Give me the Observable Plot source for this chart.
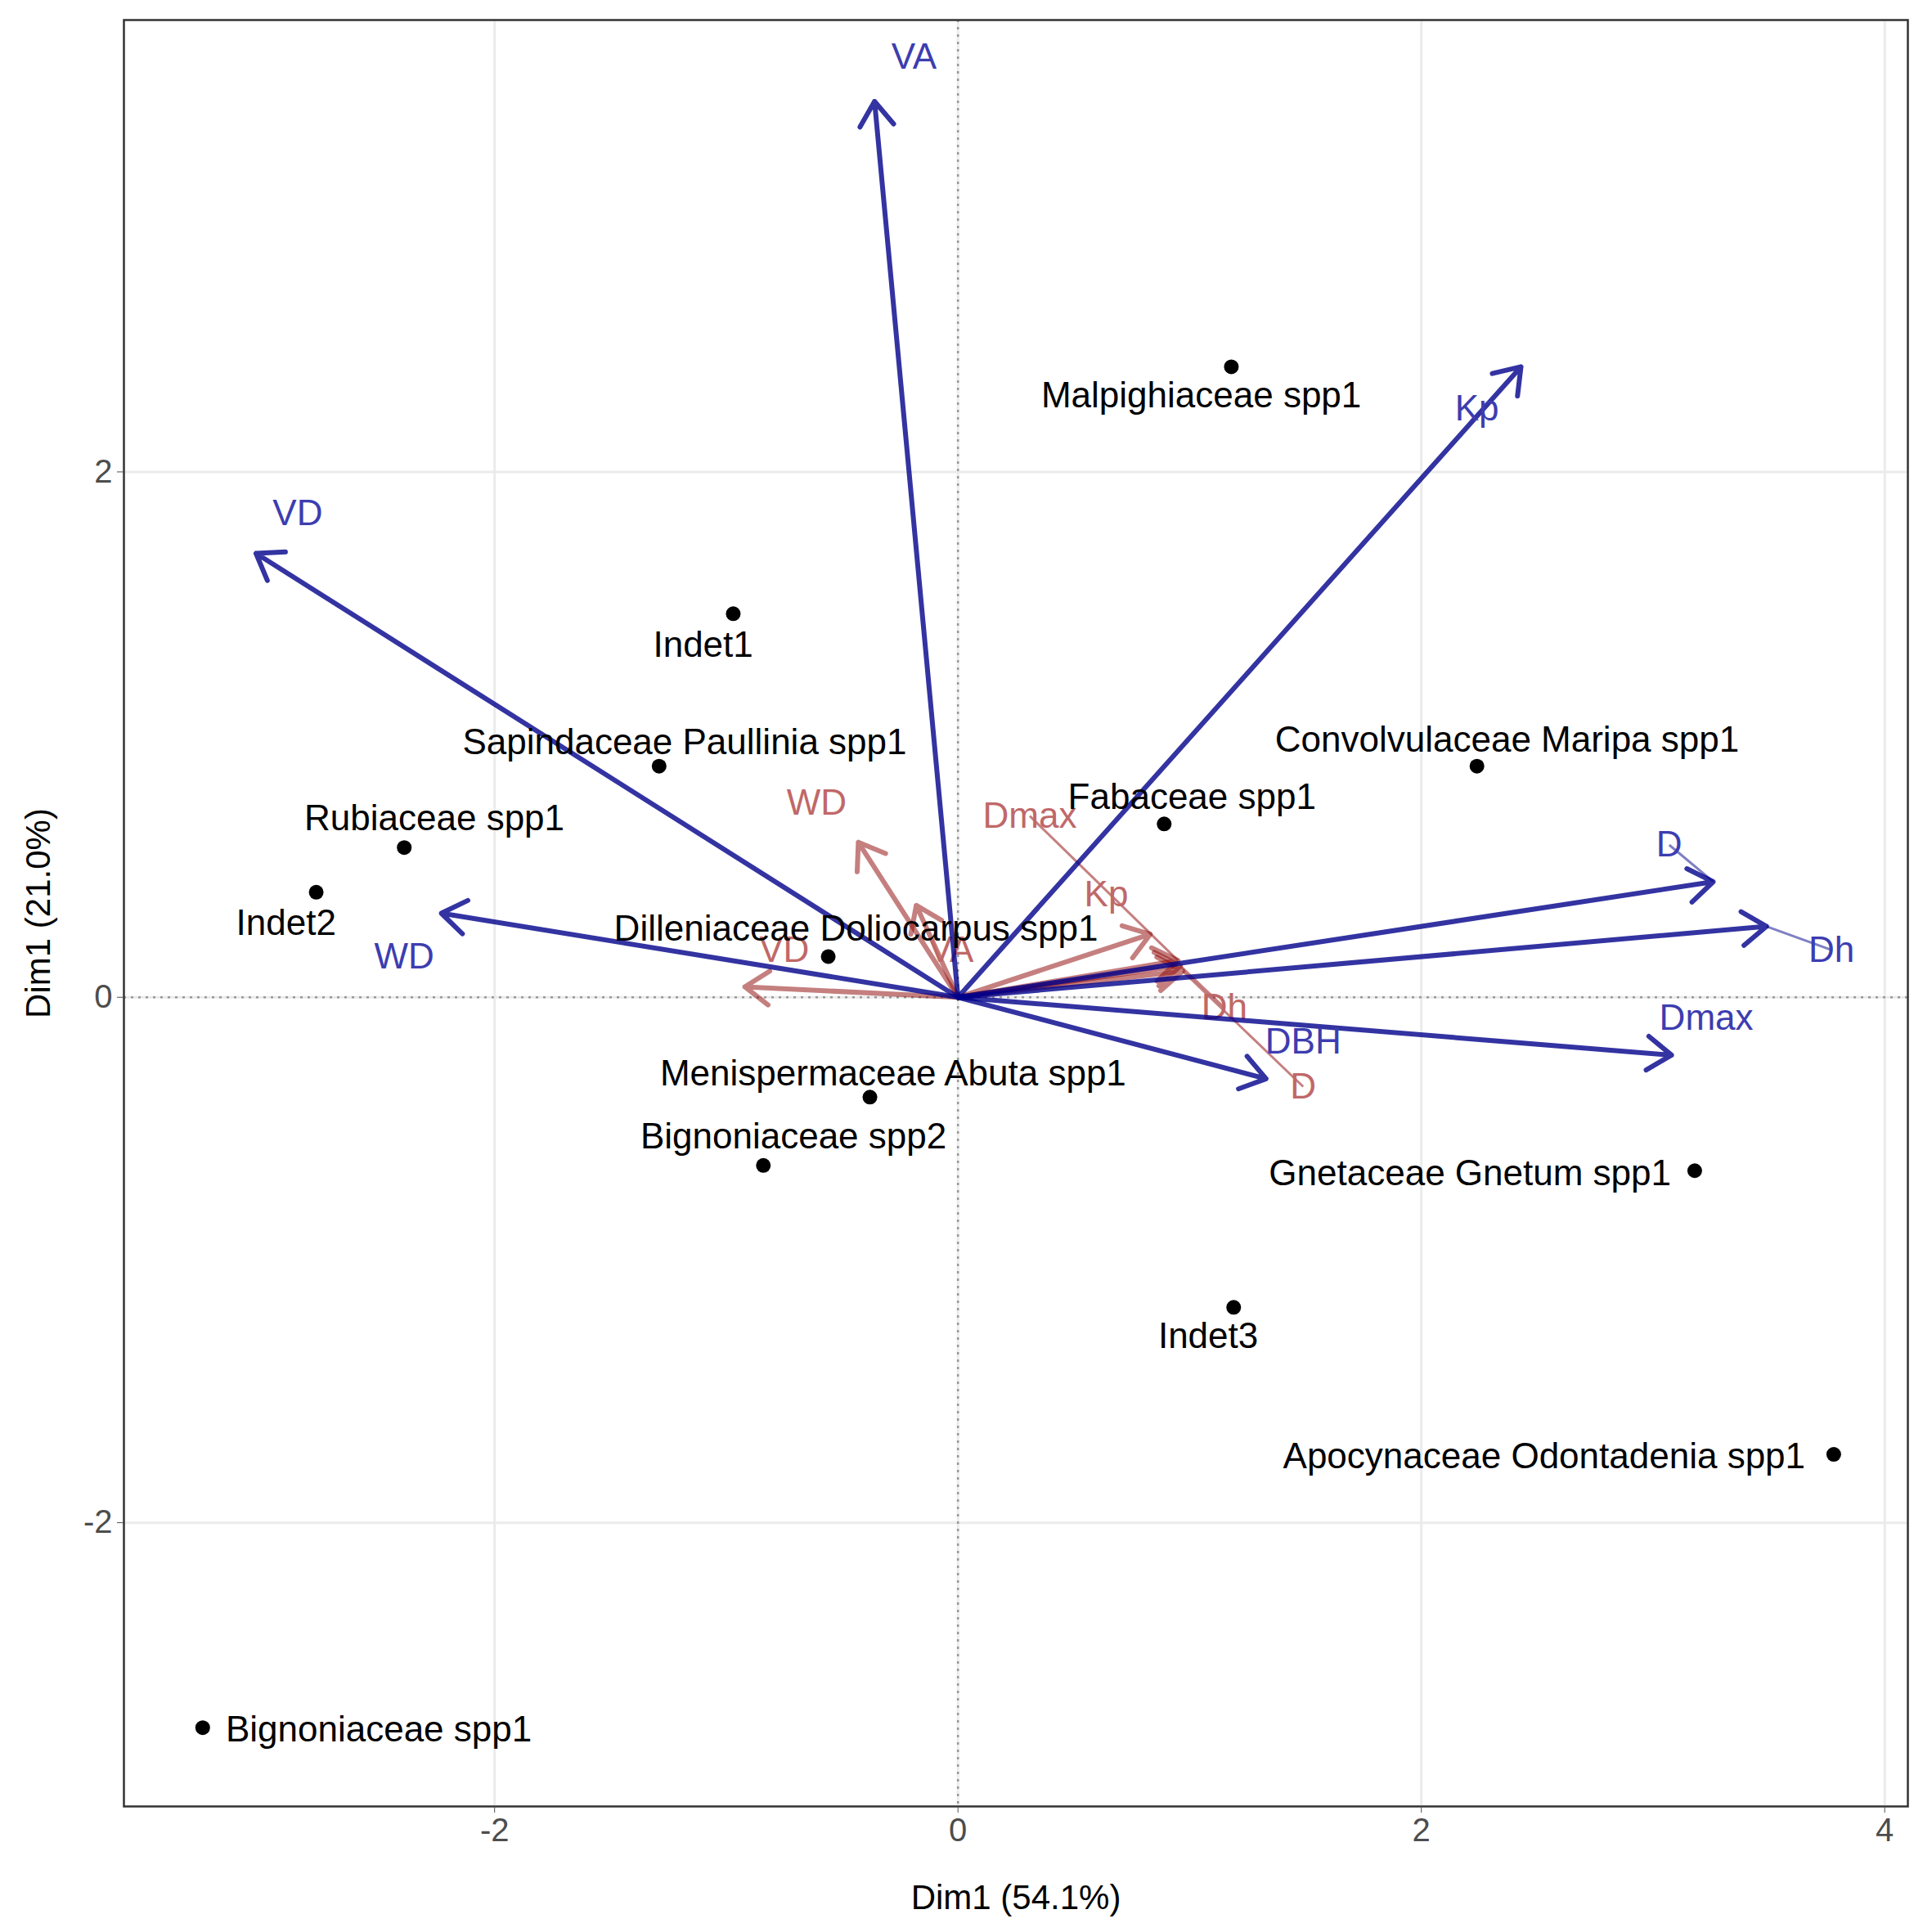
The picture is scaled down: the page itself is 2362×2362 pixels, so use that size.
<!DOCTYPE html>
<html>
<head>
<meta charset="utf-8">
<script src="https://cdn.jsdelivr.net/npm/d3@7"></script>
<script src="https://cdn.jsdelivr.net/npm/@observablehq/plot@0.6"></script>
<style>body{margin:0;background:#fff;} #chart{width:2362px;height:2362px;}</style>
</head>
<body>
<div id="chart"></div>
<script>
// individuals
const species = ["Malpighiaceae spp1","Indet1","Sapindaceae Paullinia spp1","Convolvulaceae Maripa spp1","Fabaceae spp1","Rubiaceae spp1","Indet2","Dilleniaceae Doliocarpus spp1","Menispermaceae Abuta spp1","Bignoniaceae spp2","Gnetaceae Gnetum spp1","Indet3","Apocynaceae Odontadenia spp1","Bignoniaceae spp1"];
const spX = [1.18,-0.97,-1.29,2.24,0.89,-2.39,-2.77,-0.56,-0.38,-0.84,3.18,1.19,3.78,-3.26];
const spY = [2.40,1.46,0.88,0.88,0.66,0.57,0.40,0.155,-0.38,-0.64,-0.66,-1.18,-1.74,-2.78];
// repelled label spots
const spLabX = [1.05,-1.10,-1.18,2.37,1.01,-2.26,-2.90,-0.44,-0.28,-0.71,2.21,1.08,2.53,-2.50];
const spLabY = [2.29,1.34,0.97,0.98,0.76,0.68,0.28,0.26,-0.29,-0.53,-0.67,-1.29,-1.75,-2.79];

// blue variables
const blueVars = ["VA","Kp","VD","WD","D","Dh","Dmax","DBH"];
const blueX = [-0.36,2.43,-3.03,-2.23,3.26,3.49,3.08,1.33];
const blueY = [3.41,2.40,1.69,0.32,0.44,0.27,-0.22,-0.31];
const blueLabX = [-0.19,2.24,-2.85,-2.39,3.07,3.77,3.23,1.49];
const blueLabY = [3.58,2.24,1.84,0.155,0.58,0.18,-0.08,-0.17];
const blueLeader = ["D","Dh"];

// red variables
const redVars = ["WD","Dmax","Kp","VD","VA","Dh","D"];
const redX = [-0.43,0.95,0.83,-0.92,-0.18,0.96,0.97];
const redY = [0.59,0.14,0.24,0.04,0.35,0.12,0.10];
const redLabX = [-0.61,0.31,0.64,-0.75,-0.03,1.15,1.49];
const redLabY = [0.74,0.69,0.39,0.18,0.18,-0.04,-0.34];
const redLeader = ["Dmax","Dh","D"];

const pts = species.map((s,i)=>({name:s,x:spX[i],y:spY[i],lx:spLabX[i],ly:spLabY[i]}));
const blue = blueVars.map((s,i)=>({name:s,x:blueX[i],y:blueY[i],lx:blueLabX[i],ly:blueLabY[i]}));
const red = redVars.map((s,i)=>({name:s,x:redX[i],y:redY[i],lx:redLabX[i],ly:redLabY[i]}));

const blueCol = "#00008b", redCol = "#8b0000";
const fmt = d => String(d).replace("−", "-");

const chart = Plot.plot({
  width: 2362, height: 2362,
  marginLeft: 151, marginRight: 30, marginTop: 24, marginBottom: 154,
  style: {fontFamily: "Liberation Sans, Arial, sans-serif", fontSize: "40px", background: "#fff"},
  x: {domain: [-3.6, 4.1]},
  y: {domain: [-3.08, 3.72]},
  marks: [
    Plot.gridX([-2,0,2,4], {stroke: "#ebebeb", strokeOpacity: 1, strokeWidth: 3}),
    Plot.gridY([-2,0,2], {stroke: "#ebebeb", strokeOpacity: 1, strokeWidth: 3}),
    Plot.ruleX([0], {stroke: "#999", strokeWidth: 2.5, strokeDasharray: "3,6"}),
    Plot.ruleY([0], {stroke: "#999", strokeWidth: 2.5, strokeDasharray: "3,6"}),
    Plot.frame({stroke: "#333", strokeWidth: 2.5}),
    Plot.axisX({ticks: [-2,0,2,4], tickFormat: fmt, tickSize: 8, tickPadding: 6, fontSize: 40, color: "#4d4d4d"}),
    Plot.axisX({ticks: [], label: "Dim1 (54.1%)", labelAnchor: "center", labelArrow: "none", labelOffset: 125, fontSize: 42, color: "black"}),
    Plot.axisY({ticks: [-2,0,2], tickFormat: fmt, tickSize: 8, tickPadding: 6, fontSize: 40, color: "#4d4d4d"}),
    Plot.axisY({ticks: [], label: "Dim1 (21.0%)", labelAnchor: "center", labelArrow: "none", labelOffset: 120, fontSize: 42, color: "black"}),
    // red
    Plot.arrow(red, {x1: 0, y1: 0, x2: "x", y2: "y", stroke: redCol, strokeOpacity: 0.5, strokeWidth: 6, headLength: 9, headAngle: 70}),
    Plot.link(red.filter(d=>redLeader.includes(d.name)), {x1: "lx", y1: "ly", x2: "x", y2: "y", stroke: redCol, strokeOpacity: 0.5, strokeWidth: 3}),
    Plot.text(red, {x: "lx", y: "ly", text: "name", fill: "#c06868", fontSize: 44, ariaLabel: "redlab"}),
    // blue
    Plot.arrow(blue, {x1: 0, y1: 0, x2: "x", y2: "y", stroke: blueCol, strokeOpacity: 0.8, strokeWidth: 6, headLength: 9, headAngle: 70}),
    Plot.link(blue.filter(d=>blueLeader.includes(d.name)), {x1: "lx", y1: "ly", x2: "x", y2: "y", stroke: blueCol, strokeOpacity: 0.5, strokeWidth: 3}),
    Plot.text(blue, {x: "lx", y: "ly", text: "name", fill: "#3d3db0", fontSize: 44, ariaLabel: "bluelab"}),
    // individuals
    Plot.dot(pts, {x: "x", y: "y", r: 9, fill: "black"}),
    Plot.text(pts, {x: "lx", y: "ly", text: "name", fill: "black", fontSize: 44})
  ]
});

document.getElementById("chart").append(chart);

// rounded boxes behind the variable labels
function boxes(label, stroke) {
  d3.select(chart).selectAll(`[aria-label="${label}"]`).each(function() {
    const b = this.getBBox();
    d3.select(this.parentNode).insert("rect", () => this)
      .attr("x", b.x - 11).attr("y", b.y - 4)
      .attr("width", b.width + 22).attr("height", b.height + 8)
      .attr("rx", 7).attr("fill", "white").attr("stroke", stroke).attr("stroke-width", 2);
  });
}
boxes("redlab", "#c06868");
boxes("bluelab", "#3d3db0");
</script>
</body>
</html>
